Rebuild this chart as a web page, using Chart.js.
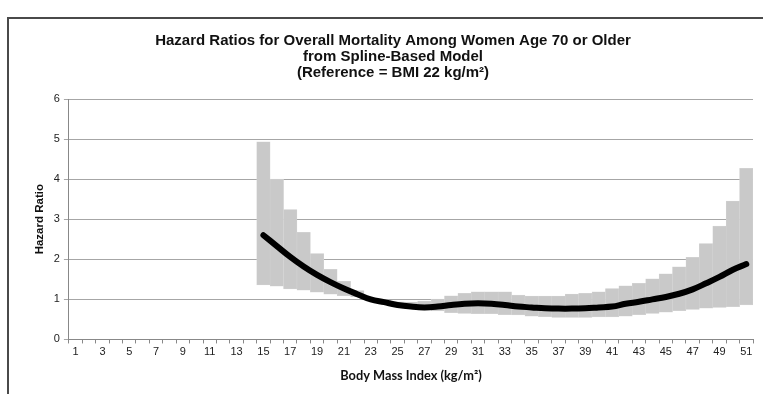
<!DOCTYPE html>
<html>
<head>
<meta charset="utf-8">
<script src="https://cdn.jsdelivr.net/npm/chart.js@4"></script>
<style>
  html, body { margin: 0; padding: 0; background: #fff; overflow: hidden; }
  #wrap { position: relative; width: 763px; height: 394px; overflow: hidden; }
  #frame { position: absolute; left: 7px; top: 17px; width: 900px; height: 600px;
           border-left: 2px solid #4a4a4a; border-top: 2px solid #4a4a4a; pointer-events: none; }
  canvas { position: absolute; left: 0; top: 0; }
</style>
</head>
<body>
<div id="wrap">
  <canvas id="chart" width="780" height="394"></canvas>
  <div id="frame"></div>
</div>
<script>
const bmi = ['1','2','3','4','5','6','7','8','9','10','11','12','13','14','15','16','17','18','19','20',
  '21','22','23','24','25','26','27','28','29','30','31','32','33','34','35','36','37','38','39','40',
  '41','42','43','44','45','46','47','48','49','50','51'];

// hazard ratio (spline), BMI categories 15..51
const hazard = [null,null,null,null,null,null,null,null,null,null,null,null,null,null,
  2.60, 2.33, 2.06, 1.82, 1.61, 1.43, 1.27, 1.13, 1.00, 0.93, 0.86, 0.82, 0.80, 0.82, 0.86, 0.89,
  0.90, 0.89, 0.86, 0.82, 0.80, 0.78, 0.77, 0.77, 0.78, 0.80, 0.82, 0.89, 0.94, 1.00, 1.06, 1.14,
  1.25, 1.40, 1.56, 1.74, 1.88];

// 95% CI lower / upper
const ciLow = [null,null,null,null,null,null,null,null,null,null,null,null,null,null,
  1.36, 1.33, 1.26, 1.23, 1.18, 1.13, 1.09, 1.06, 0.98, 0.90, 0.82, 0.77, 0.73, 0.71, 0.67, 0.65,
  0.64, 0.64, 0.62, 0.61, 0.58, 0.57, 0.55, 0.55, 0.55, 0.56, 0.56, 0.58, 0.62, 0.65, 0.68, 0.72,
  0.75, 0.78, 0.80, 0.82, 0.86];
const ciHigh = [null,null,null,null,null,null,null,null,null,null,null,null,null,null,
  4.93, 4.00, 3.24, 2.67, 2.14, 1.75, 1.45, 1.22, 1.01, 0.97, 0.94, 0.93, 0.96, 1.01, 1.09, 1.15,
  1.19, 1.19, 1.19, 1.11, 1.08, 1.08, 1.08, 1.13, 1.15, 1.19, 1.27, 1.34, 1.40, 1.51, 1.64, 1.81,
  2.05, 2.39, 2.83, 3.45, 4.27];

const yTicks = [0, 1, 2, 3, 4, 5, 6];

const ciBars = ciLow.map((lo, i) => lo == null ? null : [lo, ciHigh[i]]);

new Chart(document.getElementById('chart').getContext('2d'), {
  data: {
    labels: bmi,
    datasets: [
      {
        type: 'line',
        label: 'Hazard Ratio',
        data: hazard,
        borderColor: '#000',
        borderWidth: 6,
        borderCapStyle: 'round',
        pointRadius: 0,
        tension: 0.4,
        order: 0
      },
      {
        type: 'bar',
        label: '95% CI',
        data: ciBars,
        backgroundColor: '#c9c9c9',
        borderColor: '#d6d6d6',
        borderWidth: 0.5,
        borderSkipped: false,
        barPercentage: 1,
        categoryPercentage: 1,
        order: 1
      }
    ]
  },
  options: {
    responsive: false,
    animation: false,
    layout: { padding: { left: 33, right: 27, top: 14, bottom: 10 } },
    plugins: {
      legend: { display: false },
      tooltip: { enabled: false },
      title: {
        display: true,
        text: ['Hazard Ratios for Overall Mortality Among Women Age 70 or Older',
               'from Spline-Based Model',
               '(Reference = BMI 22 kg/m\u00B2)'],
        color: '#111',
        font: { family: 'Liberation Sans, Arial', size: 15, weight: 'bold', lineHeight: 1.0667 },
        padding: { top: 19, bottom: 18 }
      }
    },
    scales: {
      x: {
        type: 'category',
        offset: true,
        grid: { offset: true, drawOnChartArea: false, color: '#888', tickLength: 4 },
        border: { color: '#888', width: 1 },
        ticks: {
          autoSkip: false,
          maxRotation: 0,
          color: '#222',
          font: { family: 'Liberation Sans, Arial', size: 11 },
          padding: 2,
          callback: function (v, i) { return i % 2 === 0 ? bmi[i] : ''; }
        },
        title: {
          display: true,
          text: 'Body Mass Index (kg/m\u00B2)',
          color: '#111',
          font: { family: 'Lato', size: 12.8, weight: 'bold' },
          padding: { top: 8, bottom: 0 }
        }
      },
      y: {
        min: 0,
        max: 6,
        afterBuildTicks: function (axis) { axis.ticks = yTicks.map(v => ({ value: v })); },
        grid: { color: '#a6a6a6', lineWidth: 1, tickLength: 5 },
        border: { color: '#888', width: 1 },
        ticks: {
          color: '#222',
          font: { family: 'Liberation Sans, Arial', size: 11 },
          padding: 4
        },
        title: {
          display: true,
          text: 'Hazard Ratio',
          color: '#111',
          font: { family: 'Liberation Sans, Arial', size: 11.5, weight: 'bold' },
          padding: { top: 0, bottom: 3 }
        }
      }
    }
  }
});
</script>
</body>
</html>
